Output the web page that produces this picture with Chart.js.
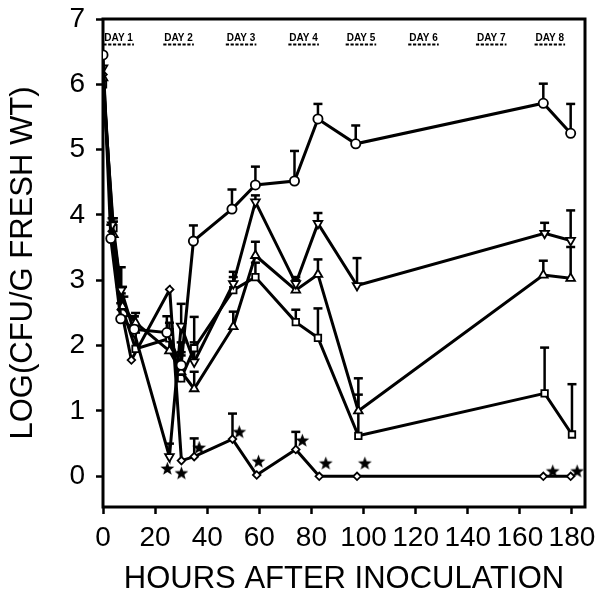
<!DOCTYPE html>
<html><head><meta charset="utf-8">
<script src="https://cdn.jsdelivr.net/npm/chart.js@4/dist/chart.umd.min.js"></script>
<style>html,body{margin:0;padding:0;background:#fff}</style>
</head><body>
<canvas id="c" width="595" height="594"></canvas>
<script>
// ---- data (hours after inoculation, log CFU/g fresh wt, upper error bar) ----
const xTicks = [0, 20, 40, 60, 80, 100, 120, 140, 160, 180];
const yTicks = [0, 1, 2, 3, 4, 5, 6, 7];

const circleT = [0, 3, 6.8, 12, 24.5, 30, 34.7, 49.5, 58.5, 73.5, 82.5, 97, 169, 179.5];
const circleV = [6.45, 3.64, 2.41, 2.25, 2.2, 1.7, 3.6, 4.09, 4.46, 4.52, 5.47, 5.09, 5.71, 5.25];
const circleE = [null, 3.85, 2.65, 2.45, 2.45, 2.05, 3.84, 4.39, 4.74, 4.98, 5.7, 5.37, 6.01, 5.7];

const invTriT = [0, 3.5, 7, 12, 25.5, 30, 35, 50, 58.5, 74, 82.5, 97.5, 169.5, 179.5];
const invTriV = [6.25, 3.85, 2.85, 2.2, 0.3, 2.3, 1.75, 2.95, 4.2, 2.95, 3.87, 2.92, 3.72, 3.61];
const invTriE = [null, 3.95, 3.2, 2.45, 0.5, 2.64, 2.05, 3.13, 4.3, 3.05, 4.03, 3.34, 3.88, 4.07];

const triT = [0, 4, 7.5, 12.5, 25.5, 30, 35, 50, 58.5, 74, 82.5, 98, 169, 179.5];
const triV = [6.1, 3.7, 2.6, 2.35, 1.92, 1.6, 1.34, 2.29, 3.38, 2.85, 3.09, 1.0, 3.08, 3.03];
const triE = [null, 3.9, 2.9, 2.5, 2.25, 1.9, 1.6, 2.52, 3.59, 3.0, 3.32, 1.5, 3.3, 3.51];

const sqT = [0, 4, 8, 12.5, 25.5, 30, 35, 50, 58.5, 74, 82.5, 98, 169.5, 180];
const sqV = [6.0, 3.8, 2.5, 1.95, 2.11, 1.5, 1.96, 2.85, 3.05, 2.36, 2.12, 0.62, 1.27, 0.64];
const sqE = [null, 3.95, 2.75, 2.2, 2.35, 1.85, 2.44, 3.05, 3.27, 2.55, 2.57, 1.25, 1.97, 1.41];

const diaT = [0, 3.5, 7, 10.9, 25.6, 30.1, 35, 49.7, 59, 74, 83, 97.5, 169, 179.5];
const diaV = [6.15, 3.75, 2.55, 1.78, 2.86, 0.24, 0.3, 0.57, 0.02, 0.41, 0.0, 0.0, 0.0, 0.0];
const diaE = [null, null, 2.8, null, null, null, 0.58, 0.96, null, 0.68, null, null, null, null];

const starT = [24.7, 30.1, 36.9, 52.3, 59.7, 76.5, 85.5, 100.5, 172.6, 182];
const starV = [0.12, 0.05, 0.44, 0.68, 0.23, 0.55, 0.2, 0.2, 0.08, 0.08];

const dayLabels = ['DAY 1', 'DAY 2', 'DAY 3', 'DAY 4', 'DAY 5', 'DAY 6', 'DAY 7', 'DAY 8'];
const dayHours = [6, 29, 53, 77, 99, 123, 149, 171.5];

// ---- helpers ----
function pts(t, v) { return t.map((x, i) => ({ x: x, y: v[i] })); }

const starImg = document.createElement('canvas');
starImg.width = 15; starImg.height = 15;
(function () {
  const g = starImg.getContext('2d');
  g.fillStyle = '#000';
  g.beginPath();
  for (let i = 0; i < 10; i++) {
    const r = i % 2 === 0 ? 7.2 : 3.0;
    const a = -Math.PI / 2 + i * Math.PI / 5;
    const px = 7.5 + r * Math.cos(a), py = 8 + r * Math.sin(a);
    if (i === 0) g.moveTo(px, py); else g.lineTo(px, py);
  }
  g.closePath(); g.fill();
})();

function series(t, v, e, style, radius, rot) {
  return {
    data: pts(t, v), errTop: e,
    showLine: true, borderColor: '#000', borderWidth: 3,
    pointStyle: style, pointRadius: radius, pointRotation: rot || 0,
    pointBackgroundColor: '#fff', pointBorderColor: '#000', pointBorderWidth: 1.8,
    tension: 0
  };
}

const errorBars = {
  id: 'errorBars',
  beforeDatasetsDraw(chart) {
    const ctx = chart.ctx, ys = chart.scales.y;
    ctx.save();
    ctx.strokeStyle = '#000';
    chart.data.datasets.forEach((ds, i) => {
      if (!ds.errTop) return;
      const meta = chart.getDatasetMeta(i);
      meta.data.forEach((p, j) => {
        const e = ds.errTop[j];
        if (e === null || e === undefined) return;
        const yt = ys.getPixelForValue(e);
        ctx.lineWidth = 2.5;
        ctx.beginPath(); ctx.moveTo(p.x, p.y); ctx.lineTo(p.x, yt); ctx.stroke();
        ctx.lineWidth = 2.5;
        ctx.beginPath(); ctx.moveTo(p.x - 4.5, yt); ctx.lineTo(p.x + 4.5, yt); ctx.stroke();
      });
    });
    ctx.restore();
  }
};

const frame = {
  id: 'frame',
  beforeDatasetsDraw(chart) {
    const a = chart.chartArea, ctx = chart.ctx;
    ctx.save();
    ctx.strokeStyle = '#000'; ctx.lineWidth = 3;
    ctx.strokeRect(a.left, a.top, a.right - a.left, a.bottom - a.top);
    ctx.restore();
  }
};

const days = {
  id: 'days',
  afterDatasetsDraw(chart) {
    const ctx = chart.ctx, xs = chart.scales.x, a = chart.chartArea;
    ctx.save();
    ctx.fillStyle = '#000'; ctx.strokeStyle = '#000';
    ctx.font = 'bold 10px "Liberation Sans", Arial, sans-serif';
    ctx.textAlign = 'center'; ctx.textBaseline = 'middle';
    dayLabels.forEach((lab, i) => {
      const cx = xs.getPixelForValue(dayHours[i]);
      const w = ctx.measureText(lab).width;
      ctx.fillText(lab, cx, a.top + 19);
      ctx.lineWidth = 1.8; ctx.setLineDash([3.2, 1.6]);
      ctx.beginPath(); ctx.moveTo(cx - w / 2 - 1, a.top + 25.5); ctx.lineTo(cx + w / 2 + 1, a.top + 25.5); ctx.stroke();
    });
    ctx.restore();
  }
};

const tickFont = { family: '"Liberation Sans", Arial, sans-serif', size: 28 };
const titleFont = { family: '"Liberation Sans", Arial, sans-serif', size: 31, lineHeight: 1 };

new Chart(document.getElementById('c'), {
  type: 'scatter',
  data: {
    datasets: [
      { data: pts(starT, starV), showLine: false, pointStyle: starImg, pointRadius: 7 },
      series(circleT, circleV, circleE, 'circle', 4.6),
      series(invTriT, invTriV, invTriE, 'triangle', 5, 180),
      series(triT, triV, triE, 'triangle', 5),
      series(sqT, sqV, sqE, 'rect', 4.6),
      series(diaT, diaV, diaE, 'rectRot', 3.8)
    ]
  },
  options: {
    responsive: false, animation: false, devicePixelRatio: 1,
    layout: { padding: { top: 19, right: 10, left: 0, bottom: 0 } },
    plugins: { legend: { display: false }, tooltip: { enabled: false } },
    scales: {
      x: {
        type: 'linear', min: 0, max: 185,
        afterBuildTicks(s) { s.ticks = xTicks.map(v => ({ value: v })); },
        afterFit(s) { s.height = 87; s.paddingLeft = 0; s.paddingRight = 0; },
        grid: { display: true, drawOnChartArea: false, drawTicks: true, tickLength: 7, tickWidth: 2.5, tickColor: '#000' },
        border: { display: false },
        ticks: { color: '#000', font: tickFont, padding: 7, maxRotation: 0, autoSkip: false },
        title: { display: true, text: 'HOURS AFTER INOCULATION', color: '#000', font: titleFont, padding: { top: 0, bottom: -1 } }
      },
      y: {
        type: 'linear', min: -0.47, max: 7,
        afterBuildTicks(s) { s.ticks = yTicks.map(v => ({ value: v })); },
        afterFit(s) { s.width = 103; s.paddingTop = 0; s.paddingBottom = 0; },
        grid: { display: true, drawOnChartArea: false, drawTicks: true, tickLength: 7, tickWidth: 2.5, tickColor: '#000' },
        border: { display: false },
        ticks: { color: '#000', font: tickFont, padding: 11, autoSkip: false },
        title: { display: true, text: 'LOG(CFU/G FRESH WT)', color: '#000', font: titleFont, padding: { top: 8, bottom: 0 } }
      }
    }
  },
  plugins: [frame, errorBars, days]
});
</script>
</body></html>
